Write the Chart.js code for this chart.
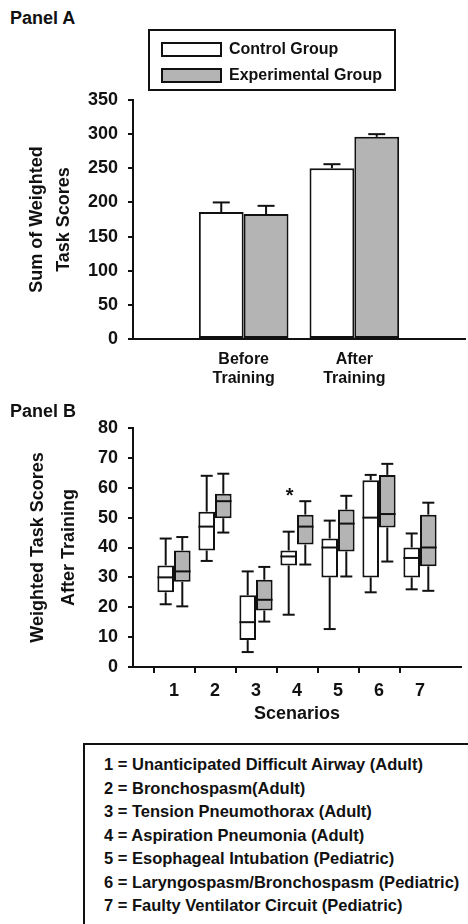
<!doctype html>
<html>
<head>
<title>Weighted Task Scores</title>
<script src="https://cdn.jsdelivr.net/npm/chart.js@4.4.0/dist/chart.umd.min.js"></script>
<style>
    body {
        margin: 0;
        background: #fff;
        font-family: "Liberation Sans", Arial, sans-serif;
        font-weight: bold;
        color: #111;
    }
    .page {
        position: relative;
        width: 468px;
        height: 924px;
        overflow: hidden;
    }
    .panel-label {
        position: absolute;
        left: 10px;
        font-size: 18px;
        line-height: 20px;
    }
    #panelA { position: absolute; left: 0; top: 0; width: 468px; height: 393px; }
    #panelB { position: absolute; left: 0; top: 395px; width: 468px; height: 330px; }

    .legend-a {
        position: absolute;
        left: 148px;
        top: 29px;
        width: 233px;
        height: 48px;
        border: 2px solid #111;
        padding: 10px 0 0 11px;
    }
    .legend-a ul, .legend-b ul { list-style: none; margin: 0; padding: 0; }
    .legend-a li {
        display: flex;
        align-items: center;
        height: 26px;
        font-size: 16px;
    }
    .legend-a li span.swatch {
        width: 57px;
        height: 11px;
        border: 2px solid #111;
        margin-right: 7px;
        margin-top: -10px;
    }
    .legend-a li span.txt { margin-top: -10px; }

    .legend-b {
        position: absolute;
        left: 83px;
        top: 743px;
        width: 420px;
        height: 220px;
        border: 2px solid #111;
        padding: 8px 0 0 19px;
        font-size: 16.5px;
    }
    .legend-b li { height: 23.5px; line-height: 23.5px; white-space: nowrap; }
</style>
</head>
<body>
<div class="page">
    <div class="panel-label" style="top:8px">Panel A</div>
    <div id="panelA"><canvas id="chartA"></canvas></div>
    <div id="legendA" class="legend-a"></div>

    <div id="panelB"><canvas id="chartB"></canvas></div>
    <div class="panel-label" style="top:401px">Panel B</div>
    <div id="legendB" class="legend-b"></div>
</div>

<script>
    // Panel A: sum of weighted task scores (mean + SE)
    var periods = ['', ['Before', 'Training'], ['After', 'Training'], ''];
    var controlSum = [null, 186, 250, null];
    var controlSumErr = [null, 14, 6, null];
    var expSum = [null, 183, 296, null];
    var expSumErr = [null, 12, 4, null];

    // Panel B: per scenario box plots (after training)
    var scenarios = ['', '1', '2', '3', '4', '5', '6', '7', ''];
    var controlMin = [null, 21, 35.5, 5, 17.5, 12.7, 25, 26, null];
    var controlQ1 = [null, 25, 39, 9, 34, 30, 30, 30, null];
    var controlMed = [null, 30, 47, 15, 37, 40, 50, 36.5, null];
    var controlQ3 = [null, 34, 52, 24, 39, 43, 62.5, 40, null];
    var controlMax = [null, 43, 64, 32, 45.3, 49, 64.3, 44.7, null];
    var expMin = [null, 20.3, 45, 15.2, 34.3, 30.3, 35.3, 25.5, null];
    var expQ1 = [null, 28.5, 49.8, 18.9, 41, 38.7, 46.7, 33.7, null];
    var expMed = [null, 32, 55.5, 22.5, 47, 48, 51.2, 40, null];
    var expQ3 = [null, 39, 58, 29.2, 51, 52.7, 64.3, 51, null];
    var expMax = [null, 43.5, 64.7, 33.5, 55.5, 57.3, 68, 55, null];
    var starIndex = 4;      // scenario with significant difference
    var starValue = 58.5;

    var scenarioNames = [
        '1 = Unanticipated Difficult Airway (Adult)',
        '2 = Bronchospasm(Adult)',
        '3 = Tension Pneumothorax (Adult)',
        '4 = Aspiration Pneumonia (Adult)',
        '5 = Esophageal Intubation (Pediatric)',
        '6 = Laryngospasm/Bronchospasm (Pediatric)',
        '7 = Faulty Ventilator Circuit (Pediatric)'
    ];

    var INK = '#111';
    var GREY = '#b4b4b4';

    Chart.defaults.font.family = '"Liberation Sans", Arial, sans-serif';
    Chart.defaults.font.weight = 'bold';
    Chart.defaults.color = INK;

    function line(ctx, x1, y1, x2, y2) {
        ctx.beginPath();
        ctx.moveTo(x1, y1);
        ctx.lineTo(x2, y2);
        ctx.stroke();
    }

    var errorBars = {
        id: 'errorBars',
        afterDatasetsDraw: function(chart) {
            var ctx = chart.ctx, y = chart.scales.y;
            ctx.save();
            ctx.strokeStyle = INK;
            ctx.lineWidth = 2;
            chart.data.datasets.forEach(function(ds, d) {
                chart.getDatasetMeta(d).data.forEach(function(bar, i) {
                    if (ds.data[i] == null) return;
                    var top = y.getPixelForValue(ds.data[i]);
                    var tip = y.getPixelForValue(ds.data[i] + ds.err[i]);
                    line(ctx, bar.x, top, bar.x, tip);
                    line(ctx, bar.x - 8.5, tip, bar.x + 8.5, tip);
                });
            });
            ctx.restore();
        }
    };

    var boxWhiskers = {
        id: 'boxWhiskers',
        afterDatasetsDraw: function(chart) {
            var ctx = chart.ctx, y = chart.scales.y;
            ctx.save();
            ctx.strokeStyle = INK;
            ctx.lineWidth = 2;
            chart.data.datasets.forEach(function(ds, d) {
                chart.getDatasetMeta(d).data.forEach(function(bar, i) {
                    if (ds.med[i] == null) return;
                    var half = bar.width / 2;
                    var m = y.getPixelForValue(ds.med[i]);
                    line(ctx, bar.x - half, m, bar.x + half, m);
                    var hi = y.getPixelForValue(ds.max[i]);
                    var q3 = y.getPixelForValue(ds.data[i][1]);
                    line(ctx, bar.x, q3, bar.x, hi);
                    line(ctx, bar.x - 6, hi, bar.x + 6, hi);
                    var lo = y.getPixelForValue(ds.min[i]);
                    var q1 = y.getPixelForValue(ds.data[i][0]);
                    line(ctx, bar.x, q1, bar.x, lo);
                    line(ctx, bar.x - 6, lo, bar.x + 6, lo);
                });
            });
            // significance marker
            var mark = chart.getDatasetMeta(0).data[starIndex];
            ctx.fillStyle = INK;
            ctx.font = 'bold 20px "Liberation Sans", Arial, sans-serif';
            ctx.textAlign = 'center';
            ctx.textBaseline = 'middle';
            ctx.fillText('*', mark.x + 1, y.getPixelForValue(starValue) + 4);
            ctx.restore();
        }
    };

    var configA = {
        type: 'bar',
        data: {
            labels: periods,
            datasets: [{
                label: 'Control Group',
                data: controlSum,
                err: controlSumErr,
                backgroundColor: '#fff',
                borderColor: INK,
                borderWidth: 2,
                borderSkipped: false
            }, {
                label: 'Experimental Group',
                data: expSum,
                err: expSumErr,
                backgroundColor: GREY,
                borderColor: INK,
                borderWidth: 2,
                borderSkipped: false
            }]
        },
        options: {
            responsive: true,
            maintainAspectRatio: false,
            animation: false,
            layout: { padding: { top: 100, right: 1, bottom: 0, left: 0 } },
            datasets: { bar: { categoryPercentage: 0.81, barPercentage: 1 } },
            plugins: { legend: { display: false }, tooltip: { enabled: false } },
            scales: {
                x: {
                    offset: false,
                    grid: { display: false },
                    border: { display: true, color: INK, width: 2 },
                    ticks: { font: { size: 16 }, padding: 3, maxRotation: 0, autoSkip: false },
                    afterFit: function(s) { s.height = 54; }
                },
                y: {
                    min: 0,
                    max: 350,
                    ticks: { stepSize: 50, font: { size: 18 }, padding: 10 },
                    grid: { drawOnChartArea: false, drawTicks: true, tickLength: 5, color: INK, lineWidth: 2 },
                    border: { display: true, color: INK, width: 2 },
                    title: {
                        display: true,
                        text: ['Sum of Weighted', 'Task Scores'],
                        font: { size: 18, lineHeight: 1.5 },
                        padding: { top: 24, bottom: 0 }
                    },
                    afterFit: function(s) { s.width = 133; }
                }
            }
        },
        plugins: [errorBars]
    };

    function boxes(q1, q3) {
        return q1.map(function(v, i) { return v == null ? null : [v, q3[i]]; });
    }

    var configB = {
        type: 'bar',
        data: {
            labels: scenarios,
            datasets: [{
                label: 'Control Group',
                data: boxes(controlQ1, controlQ3),
                min: controlMin, med: controlMed, max: controlMax,
                backgroundColor: '#fff',
                borderColor: INK,
                borderWidth: 2,
                borderSkipped: false
            }, {
                label: 'Experimental Group',
                data: boxes(expQ1, expQ3),
                min: expMin, med: expMed, max: expMax,
                backgroundColor: GREY,
                borderColor: INK,
                borderWidth: 2,
                borderSkipped: false
            }]
        },
        options: {
            responsive: true,
            maintainAspectRatio: false,
            animation: false,
            layout: { padding: { top: 33, right: 0, bottom: 0, left: 0 } },
            datasets: { bar: { categoryPercentage: 0.81, barPercentage: 1 } },
            plugins: { legend: { display: false }, tooltip: { enabled: false } },
            scales: {
                x: {
                    offset: false,
                    grid: {
                        drawOnChartArea: false,
                        drawTicks: true,
                        tickLength: 6,
                        lineWidth: 2,
                        color: function(c) { return scenarios[c.index] ? INK : 'rgba(0,0,0,0)'; }
                    },
                    border: { display: true, color: INK, width: 2 },
                    ticks: { font: { size: 18 }, padding: 7, maxRotation: 0, autoSkip: false },
                    title: {
                        display: true,
                        text: 'Scenarios',
                        font: { size: 18, lineHeight: 1.2 },
                        padding: { top: 0, bottom: 0 }
                    },
                    afterFit: function(s) { s.height = 58; }
                },
                y: {
                    min: 0,
                    max: 80,
                    ticks: { stepSize: 10, font: { size: 18 }, padding: 10 },
                    grid: { drawOnChartArea: false, drawTicks: true, tickLength: 5, color: INK, lineWidth: 2 },
                    border: { display: true, color: INK, width: 2 },
                    title: {
                        display: true,
                        text: ['Weighted Task Scores', 'After Training'],
                        font: { size: 18, lineHeight: 1.75 },
                        padding: { top: 22, bottom: 0 }
                    },
                    afterFit: function(s) { s.width = 133; }
                }
            }
        },
        plugins: [boxWhiskers]
    };

    var chartA = new Chart(document.getElementById('chartA'), configA);
    var chartB = new Chart(document.getElementById('chartB'), configB);

    // legend for panel A built from the datasets
    var html = ['<ul>'];
    chartA.data.datasets.forEach(function(ds) {
        html.push('<li><span class="swatch" style="background:' + ds.backgroundColor + '"></span>');
        html.push('<span class="txt">' + ds.label + '</span></li>');
    });
    html.push('</ul>');
    document.getElementById('legendA').innerHTML = html.join('');

    // scenario key for panel B
    document.getElementById('legendB').innerHTML = '<ul>' + scenarioNames.map(function(s) {
        return '<li>' + s + '</li>';
    }).join('') + '</ul>';
</script>
</body>
</html>
